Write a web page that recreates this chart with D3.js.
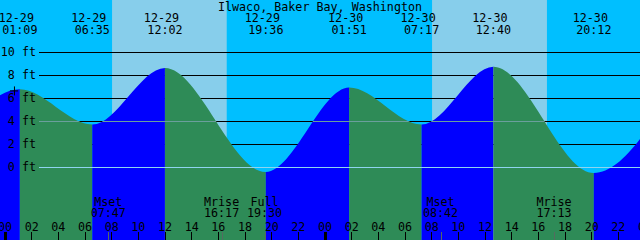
<!DOCTYPE html>
<html>
<head>
<meta charset="utf-8">
<script src="https://cdn.jsdelivr.net/npm/d3@7"></script>
<style>
  body { margin: 0; background: #fff; }
  svg { display: block; }
  text { font-family: "DejaVu Sans Mono", monospace; font-size: 11.7px; fill: #000; }
</style>
</head>
<body>
<svg id="chart" width="640" height="240"></svg>
<script>
// hours counted from 12-29 00:00
let title = 'Ilwaco, Baker Bay, Washington';

let tideHours = [-5.25, 1.15, 6.583, 12.033, 19.6, 25.85, 31.283, 36.667, 44.2, 50.3];
let tideFeet = [-0.3, 6.75, 3.7, 8.6, -0.4, 6.9, 3.7, 8.7, -0.5, 7.0];
let eventDates = ['', '12-29', '12-29', '12-29', '12-29', '12-30', '12-30', '12-30', '12-30', ''];
let eventTimes = ['', '01:09', '06:35', '12:02', '19:36', '01:51', '07:17', '12:40', '20:12', ''];

let sunrise = [8.067, 32.067];
let sunset = [16.667, 40.683];

let moonHours = [7.783, 16.283, 19.5, 32.7, 41.217];
let moonNames = ['Mset', 'Mrise', 'Full', 'Mset', 'Mrise'];
let moonTimes = ['07:47', '16:17', '19:30', '08:42', '17:13'];

let feetTicks = [10, 8, 6, 4, 2, 0];
let hourTicks = d3.range(0, 49, 2);

let nowHour = 0.71;
let nowFeet = 6.65;

let svg = d3.select('#chart');
let W = 640, H = 240;

let x = d3.scaleLinear().domain([0, 48]).range([4.5, 644.5]);
let y = d3.scaleLinear().domain([0, 10]).range([167.3, 51.7]);

// background -----------------------------------------------------------------
svg.append('rect').attr('width', W).attr('height', H).attr('fill', '#00bfff');
sunrise.forEach((s, i) => {
    svg.append('rect')
        .attr('x', x(s)).attr('y', 0)
        .attr('width', x(sunset[i]) - x(s)).attr('height', H)
        .attr('fill', '#87ceeb');
});

// grid lines (behind the water)
svg.selectAll('line.grid').data(feetTicks).enter().append('line')
    .attr('class', 'grid')
    .attr('x1', 39).attr('x2', W)
    .attr('y1', (d) => Math.round(y(d)) + 0.5).attr('y2', (d) => Math.round(y(d)) + 0.5)
    .attr('stroke', '#000').attr('stroke-width', 1);

// tide -----------------------------------------------------------------------
let tide = tideHours.map((h, i) => ({h: h, ft: tideFeet[i]}));
let area = d3.area()
    .x((d) => x(d.h))
    .y0(H)
    .y1((d) => y(d.ft))
    .curve(d3.curveMonotoneX);

let defs = svg.append('defs');
defs.append('clipPath').attr('id', 'waterClip')
    .append('path').datum(tide).attr('d', area);

for (let i = 0; i < tide.length - 1; i++) {
    let rising = tide[i + 1].ft > tide[i].ft;
    defs.append('clipPath').attr('id', 'seg' + i)
        .append('rect')
        .attr('x', x(tide[i].h)).attr('y', 0)
        .attr('width', x(tide[i + 1].h) - x(tide[i].h)).attr('height', H);
    svg.append('path')
        .datum(tide)
        .attr('clip-path', 'url(#seg' + i + ')')
        .attr('fill', rising ? '#0000ff' : '#2e8b57')
        .attr('d', area);
}

// mean level line over the water, datum line on top
svg.append('line')
    .attr('clip-path', 'url(#waterClip)')
    .attr('x1', 39).attr('x2', W)
    .attr('y1', Math.round(y(4)) + 0.5).attr('y2', Math.round(y(4)) + 0.5)
    .attr('stroke', '#6a9f9c').attr('stroke-width', 1);
svg.append('line')
    .attr('x1', 39).attr('x2', W)
    .attr('y1', Math.round(y(0)) + 0.5).attr('y2', Math.round(y(0)) + 0.5)
    .attr('stroke', '#8fd4f0').attr('stroke-width', 1);

// y labels
svg.selectAll('text.ft').data(feetTicks).enter().append('text')
    .attr('class', 'ft')
    .attr('x', 36).attr('y', (d) => y(d) + 4)
    .attr('text-anchor', 'end')
    .text((d) => d + ' ft');

// now marker
svg.append('path')
    .attr('d', 'M' + (x(nowHour) - 4) + ',' + (y(nowFeet) + 0.5) + 'h8'
        + 'M' + (x(nowHour) + 0.5) + ',' + (y(nowFeet) - 4) + 'v9')
    .attr('stroke', '#000').attr('stroke-width', 1);

// title and tide events ------------------------------------------------------
svg.append('text').attr('x', 320).attr('y', 10.5).attr('text-anchor', 'middle').text(title);

tide.forEach((d, i) => {
    if (!eventTimes[i]) return;
    svg.append('text').attr('x', x(d.h) - 3.5).attr('y', 22).attr('text-anchor', 'middle').text(eventDates[i]);
    svg.append('text').attr('x', x(d.h)).attr('y', 34).attr('text-anchor', 'middle').text(eventTimes[i]);
});

// moon events
moonHours.forEach((h, i) => {
    svg.append('text').attr('x', x(h)).attr('y', 206).attr('text-anchor', 'middle').text(moonNames[i]);
    svg.append('text').attr('x', x(h)).attr('y', 217).attr('text-anchor', 'middle').text(moonTimes[i]);
    svg.append('line')
        .attr('x1', Math.round(x(h)) + 0.5).attr('x2', Math.round(x(h)) + 0.5)
        .attr('y1', 232).attr('y2', H)
        .attr('stroke', '#556b60').attr('stroke-width', 1);
});

// hour axis
let xAxis = d3.axisBottom(x)
    .tickValues(hourTicks)
    .tickSize(0)
    .tickFormat((d) => d3.format('02d')(d % 24));
let ax = svg.append('g').attr('transform', 'translate(0,220)').call(xAxis);
ax.select('.domain').remove();
ax.selectAll('text').attr('dy', null).attr('y', 10.5)
    .attr('font-family', null).attr('font-size', null);

svg.selectAll('line.hour').data(hourTicks).enter().append('line')
    .attr('class', 'hour')
    .attr('x1', (d) => Math.round(x(d)) + 0.5).attr('x2', (d) => Math.round(x(d)) + 0.5)
    .attr('y1', 232).attr('y2', H)
    .attr('stroke', '#000')
    .attr('stroke-width', (d) => d % 24 === 0 ? 3 : 1);
</script>
</body>
</html>
